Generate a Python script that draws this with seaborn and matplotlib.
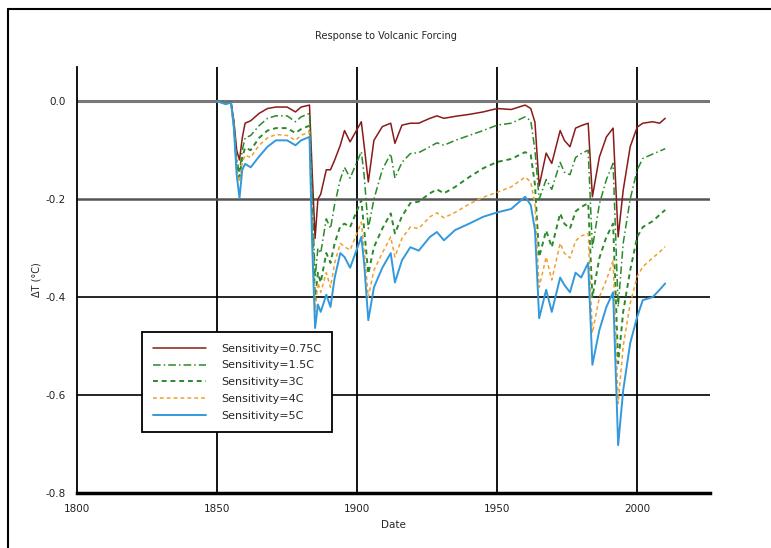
import matplotlib
matplotlib.use('Agg')
import matplotlib.pyplot as plt
from matplotlib.lines import Line2D
import seaborn as sns
import pandas as pd

years = [1850, 1853, 1855, 1856, 1857, 1858, 1859, 1860, 1862, 1865, 1868, 1871, 1875,
         1878, 1880, 1883, 1884, 1885, 1886, 1887, 1889, 1890.5, 1892, 1894, 1895.5,
         1897.5, 1901.5, 1902.5, 1904, 1906, 1909, 1912, 1913.5, 1916, 1919, 1922, 1926,
         1928.5, 1931, 1935, 1940, 1945, 1950, 1955, 1960, 1962, 1963.5, 1965, 1967.5,
         1969.5, 1972.5, 1974, 1976, 1978, 1980, 1982.5, 1984, 1986.5, 1989, 1991.4,
         1993.2, 1995, 1997.5, 2000, 2002, 2005.5, 2008, 2010]

sens_075 = [0.000, -0.004, -0.002, -0.040, -0.100, -0.120, -0.075, -0.045, -0.040, -0.025,
            -0.015, -0.012, -0.012, -0.022, -0.012, -0.008, -0.150, -0.280, -0.200, -0.190,
            -0.140, -0.140, -0.120, -0.090, -0.060, -0.083, -0.042, -0.090, -0.165, -0.080,
            -0.052, -0.045, -0.086, -0.049, -0.045, -0.045, -0.035, -0.030, -0.035, -0.031,
            -0.027, -0.022, -0.015, -0.017, -0.008, -0.015, -0.043, -0.173, -0.106, -0.127,
            -0.060, -0.080, -0.093, -0.055, -0.050, -0.045, -0.195, -0.114, -0.073, -0.055,
            -0.277, -0.182, -0.093, -0.053, -0.045, -0.042, -0.045, -0.035]

sens_15 = [0.000, -0.004, -0.003, -0.045, -0.120, -0.145, -0.100, -0.075, -0.070, -0.050,
           -0.035, -0.030, -0.030, -0.042, -0.032, -0.025, -0.200, -0.360, -0.300, -0.310,
           -0.240, -0.260, -0.210, -0.160, -0.135, -0.157, -0.103, -0.150, -0.260, -0.200,
           -0.140, -0.107, -0.157, -0.125, -0.107, -0.105, -0.093, -0.085, -0.090, -0.080,
           -0.070, -0.060, -0.049, -0.045, -0.032, -0.040, -0.100, -0.200, -0.160, -0.180,
           -0.125, -0.145, -0.150, -0.115, -0.107, -0.100, -0.300, -0.210, -0.160, -0.127,
           -0.420, -0.290, -0.200, -0.140, -0.117, -0.108, -0.102, -0.097]

sens_3 = [0.000, -0.005, -0.003, -0.050, -0.130, -0.155, -0.115, -0.095, -0.100, -0.075,
          -0.060, -0.055, -0.055, -0.065, -0.057, -0.050, -0.250, -0.405, -0.350, -0.370,
          -0.310, -0.330, -0.290, -0.255, -0.250, -0.257, -0.202, -0.260, -0.352, -0.298,
          -0.260, -0.229, -0.270, -0.235, -0.208, -0.205, -0.188, -0.180, -0.188, -0.175,
          -0.155, -0.137, -0.124, -0.118, -0.104, -0.110, -0.170, -0.318, -0.264, -0.298,
          -0.229, -0.250, -0.260, -0.225, -0.216, -0.208, -0.400, -0.320, -0.277, -0.250,
          -0.535, -0.430, -0.345, -0.277, -0.257, -0.245, -0.232, -0.222]

sens_4 = [0.000, -0.005, -0.003, -0.050, -0.140, -0.165, -0.125, -0.110, -0.115, -0.090,
          -0.075, -0.068, -0.070, -0.080, -0.070, -0.062, -0.270, -0.430, -0.370, -0.390,
          -0.350, -0.380, -0.330, -0.290, -0.297, -0.304, -0.247, -0.300, -0.400, -0.345,
          -0.310, -0.277, -0.318, -0.280, -0.257, -0.260, -0.236, -0.228, -0.238, -0.227,
          -0.210, -0.196, -0.186, -0.175, -0.155, -0.165, -0.210, -0.380, -0.318, -0.365,
          -0.290, -0.310, -0.320, -0.285, -0.275, -0.270, -0.473, -0.400, -0.365, -0.325,
          -0.617, -0.500, -0.413, -0.358, -0.338, -0.320, -0.308, -0.297]

sens_5 = [0.000, -0.006, -0.003, -0.055, -0.150, -0.198, -0.140, -0.128, -0.135, -0.113,
          -0.093, -0.080, -0.080, -0.090, -0.080, -0.073, -0.300, -0.463, -0.415, -0.430,
          -0.395, -0.420, -0.360, -0.310, -0.318, -0.340, -0.277, -0.330, -0.447, -0.380,
          -0.340, -0.310, -0.370, -0.325, -0.298, -0.305, -0.277, -0.267, -0.284, -0.263,
          -0.250, -0.236, -0.227, -0.220, -0.195, -0.212, -0.263, -0.443, -0.385, -0.430,
          -0.360, -0.375, -0.390, -0.350, -0.360, -0.330, -0.538, -0.467, -0.420, -0.390,
          -0.702, -0.590, -0.494, -0.440, -0.406, -0.400, -0.385, -0.372]

labels = ['Sensitivity=0.75C', 'Sensitivity=1.5C', 'Sensitivity=3C',
          'Sensitivity=4C', 'Sensitivity=5C']
series = [sens_075, sens_15, sens_3, sens_4, sens_5]
colors = ['#8b1a1a', '#2a8a2a', '#2a8a2a', '#f0a030', '#3399dd']
styles = ['-', (0, (5, 2, 1, 2)), (0, (2.5, 2)), (0, (2.5, 2)), '-']
widths = [1.1, 1.1, 1.4, 1.1, 1.4]

df = pd.DataFrame({'year': years})
for lab, vals in zip(labels, series):
    df[lab] = vals

sns.set_style('white')
plt.rcParams['font.family'] = ['DejaVu Sans']

fig = plt.figure(figsize=(7.71, 5.48), dpi=100)
ax = fig.add_axes([0.0999, 0.100, 0.821, 0.778])

for lab, c, ls, lw in zip(labels, colors, styles, widths):
    sns.lineplot(data=df, x='year', y=lab, ax=ax, color=c, linestyle=ls,
                 linewidth=lw, label=lab)

# grid lines as in the original
for yr in [1850, 1900, 1950, 2000]:
    ax.axvline(yr, color='black', lw=1.3, zorder=0)
ax.axhline(0.0, color='#777777', lw=2.2, zorder=0)
ax.axhline(-0.2, color='#555555', lw=1.8, zorder=0)
ax.axhline(-0.4, color='black', lw=1.2, zorder=0)
ax.axhline(-0.6, color='black', lw=1.2, zorder=0)

ax.set_xlim(1800, 2026)
ax.set_ylim(-0.8, 0.07)
ax.set_xticks([1800, 1850, 1900, 1950, 2000])
ax.set_xticks([1825, 1875, 1925, 1975, 2025], minor=True)
ax.set_yticks([-0.8, -0.6, -0.4, -0.2, 0.0])
ax.set_yticklabels(['-0.8', '-0.6', '-0.4', '-0.2', '0.0'])
ax.tick_params(axis='both', which='major', length=0, labelsize=7.5, colors='#222222')
ax.tick_params(axis='x', which='major', pad=8)
ax.tick_params(axis='y', which='major', pad=8)
ax.tick_params(axis='x', which='minor', direction='in', length=3, color='#999999')

for side in ['top', 'right']:
    ax.spines[side].set_visible(False)
ax.spines['left'].set_color('black')
ax.spines['left'].set_linewidth(1.3)
ax.spines['bottom'].set_color('black')
ax.spines['bottom'].set_linewidth(2.5)

ax.set_xlabel('Date', fontsize=7.5, labelpad=4)
ax.set_ylabel('ΔT (°C)', fontsize=7, labelpad=3)
fig.text(0.5, 0.935, 'Response to Volcanic Forcing', ha='center', va='center', fontsize=7)

leg = ax.legend(loc='lower left', bbox_to_anchor=(0.103, 0.143), fontsize=8,
                handlelength=4.7, handletextpad=1.4, labelspacing=0.62,
                fancybox=False, framealpha=1, borderpad=1.0, borderaxespad=0)
leg.get_frame().set_edgecolor('black')
leg.get_frame().set_linewidth(1.3)

# outer frame of the original figure
fig.add_artist(Line2D([0.011, 1.0], [0.983, 0.983], color='black', lw=1.5))
fig.add_artist(Line2D([0.011, 0.011], [0.0, 0.983], color='black', lw=1.5))

fig.savefig('out.png', dpi=100)
plt.close()
